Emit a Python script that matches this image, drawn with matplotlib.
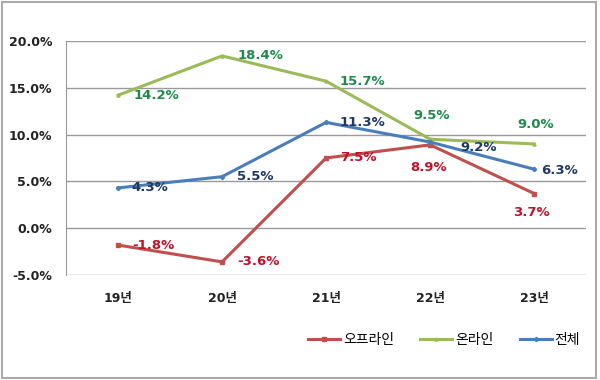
import matplotlib
matplotlib.use('Agg')
import matplotlib.pyplot as plt
from matplotlib.patches import Rectangle

years = ['19년', '20년', '21년', '22년', '23년']
offline = [-1.8, -3.6, 7.5, 8.9, 3.7]
online = [14.2, 18.4, 15.7, 9.5, 9.0]
total = [4.3, 5.5, 11.3, 9.2, 6.3]
series_names = ['오프라인', '온라인', '전체']

FONT = ['DejaVu Sans', 'Noto Sans CJK KR']
plt.rcParams['font.family'] = FONT

# label offsets in points (dx, dy, ha) per point
off_offs = [(10, 0, 'left'), (11, 0, 'left'), (10, 0, 'left'), (-1, -16, 'center'), (-2, -14, 'center')]
on_offs = [(11, 0, 'left'), (11, 0, 'left'), (10, 0, 'left'), (1, 17, 'center'), (1, 14, 'center')]
tot_offs = [(10, 0, 'left'), (11, 0, 'left'), (10, 0, 'left'), (22, -4, 'left'), (5, -1, 'left')]

fig = plt.figure(figsize=(6, 3.8), dpi=100)
ax = fig.add_axes([0.11, 0.2763, 0.867, 0.616])

x = range(len(years))
specs = [
    (offline, '#C0504D', '#C0102A', 's', off_offs),
    (online, '#9BBB59', '#1E8A4A', '^', on_offs),
    (total, '#4A7EBB', '#1F3864', 'D', tot_offs),
]
for (vals, lc, tc, mk, offs), name in zip(specs, series_names):
    ax.plot(x, vals, color=lc, lw=2.2, marker=mk, ms=2.2, label=name)
    for xi, v, (dx, dy, ha) in zip(x, vals, offs):
        ax.annotate(f'{v:.1f}%', (xi, v), xytext=(dx, dy), textcoords='offset points',
                    ha=ha, va='center', color=tc, fontsize=9.5, fontweight='bold')

ax.set_xlim(-0.5, 4.5)
ax.set_ylim(-5, 20)
ax.set_yticks([-5, 0, 5, 10, 15, 20])
ax.set_yticklabels([f'{t:.1f}%' for t in [-5, 0, 5, 10, 15, 20]])
ax.set_xticks(list(x))
ax.set_xticklabels(years)
ax.tick_params(length=0, labelsize=9, colors='#222222', pad=10)
ax.tick_params(axis='x', pad=12)
for lab in ax.get_xticklabels() + ax.get_yticklabels():
    lab.set_fontweight('bold')
ax.grid(axis='y', color='#999999', lw=1)
ax.set_axisbelow(True)
for s in ['top', 'right', 'bottom']:
    ax.spines[s].set_visible(False)
ax.spines['left'].set_color('#999999')

fig.legend(loc='center left', bbox_to_anchor=(0.493, 0.105), ncol=3, frameon=False,
           fontsize=10, handlelength=2.3, handletextpad=0.2, columnspacing=1.9)

fig.patches.append(Rectangle((0.004, 0.005), 0.99, 0.99, transform=fig.transFigure,
                             fill=False, edgecolor='#aaaaaa', lw=1.5))

fig.savefig('out.png', dpi=100)
